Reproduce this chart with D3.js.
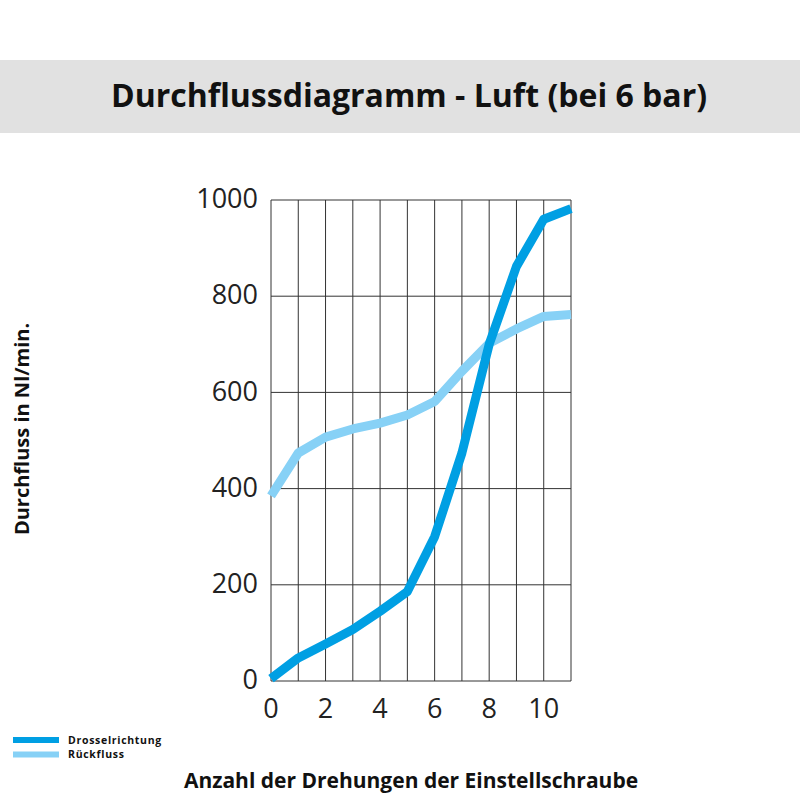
<!DOCTYPE html>
<html>
<head>
<meta charset="utf-8">
<script src="https://cdn.jsdelivr.net/npm/d3@7.9.0/dist/d3.min.js"></script>
<style>
  body { margin: 0; background: #fff; }
  svg { display: block; font-family: "Open Sans", sans-serif; }
</style>
</head>
<body>
<svg id="chart" width="800" height="800"></svg>
<script>
// Umdrehungen der Einstellschraube
const turns = [0, 1, 2, 3, 4, 5, 6, 7, 8, 9, 10, 11];
// Durchfluss in Nl/min
const drossel = [5, 48, 77, 107, 145, 186, 300, 474, 700, 862, 960, 982];
const rueck = [385, 474, 507, 524, 536, 553, 581, 644, 702, 732, 758, 762];
const xTicks = [0, 2, 4, 6, 8, 10];
const yTicks = [0, 200, 400, 600, 800, 1000];

const series = [
  { name: 'Drosselrichtung', values: drossel, color: '#009fe3' },
  { name: 'Rückfluss', values: rueck, color: '#87d1f6' }
];

const svg = d3.select('#chart');

// title band
svg.append('rect')
  .attr('x', 0).attr('y', 60)
  .attr('width', 800).attr('height', 73)
  .attr('fill', '#e1e1e1');
svg.append('text')
  .attr('x', 409).attr('y', 107)
  .attr('text-anchor', 'middle')
  .attr('font-size', 32)
  .attr('font-weight', 700)
  .attr('fill', '#111')
  .text('Durchflussdiagramm - Luft (bei 6 bar)');

const x = d3.scaleLinear().domain([0, 11]).range([271, 571]);
const y = d3.scaleLinear().domain([0, 1000]).range([681, 200]);

// grid
const grid = svg.append('g').attr('stroke', '#333').attr('stroke-width', 1);
grid.selectAll('.v').data(d3.range(0, 12)).enter().append('line')
  .attr('x1', d => x(d)).attr('x2', d => x(d))
  .attr('y1', y(0)).attr('y2', y(1000));
grid.selectAll('.h').data(yTicks).enter().append('line')
  .attr('x1', x(0)).attr('x2', x(11))
  .attr('y1', d => y(d)).attr('y2', d => y(d));

// tick labels
svg.append('g').selectAll('text').data(yTicks).enter().append('text')
  .attr('x', 258).attr('y', d => y(d))
  .attr('dy', '0.3em')
  .attr('text-anchor', 'end')
  .attr('font-size', 27)
  .attr('fill', '#222')
  .text(d => d);
svg.append('g').selectAll('text').data(xTicks).enter().append('text')
  .attr('x', d => x(d)).attr('y', 718)
  .attr('text-anchor', 'middle')
  .attr('font-size', 27)
  .attr('fill', '#222')
  .text(d => d);

// lines
const line = d3.line()
  .x((d, i) => x(turns[i]))
  .y(d => y(d));

svg.append('g').selectAll('path').data(series.slice().reverse()).enter().append('path')
  .attr('d', d => line(d.values))
  .attr('fill', 'none')
  .attr('stroke', d => d.color)
  .attr('stroke-width', 9)
  .attr('stroke-linejoin', 'round');

// axis titles
svg.append('text')
  .attr('transform', 'translate(29,429) rotate(-90)')
  .attr('text-anchor', 'middle')
  .attr('font-size', 20)
  .attr('font-weight', 700)
  .attr('fill', '#111')
  .text('Durchfluss in Nl/min.');
svg.append('text')
  .attr('x', 411).attr('y', 788)
  .attr('text-anchor', 'middle')
  .attr('font-size', 21)
  .attr('font-weight', 700)
  .attr('fill', '#111')
  .text('Anzahl der Drehungen der Einstellschraube');

// legend
const legend = svg.append('g').selectAll('g').data(series).enter().append('g')
  .attr('transform', (d, i) => `translate(13,${740 + i * 14.5})`);
legend.append('rect')
  .attr('x', 0).attr('y', -3)
  .attr('width', 46).attr('height', 6)
  .attr('fill', d => d.color);
legend.append('text')
  .attr('x', 55).attr('dy', '0.36em')
  .attr('font-size', 10.5)
  .attr('letter-spacing', 0.7)
  .attr('font-weight', 700)
  .attr('fill', '#111')
  .text(d => d.name);
</script>
</body>
</html>
